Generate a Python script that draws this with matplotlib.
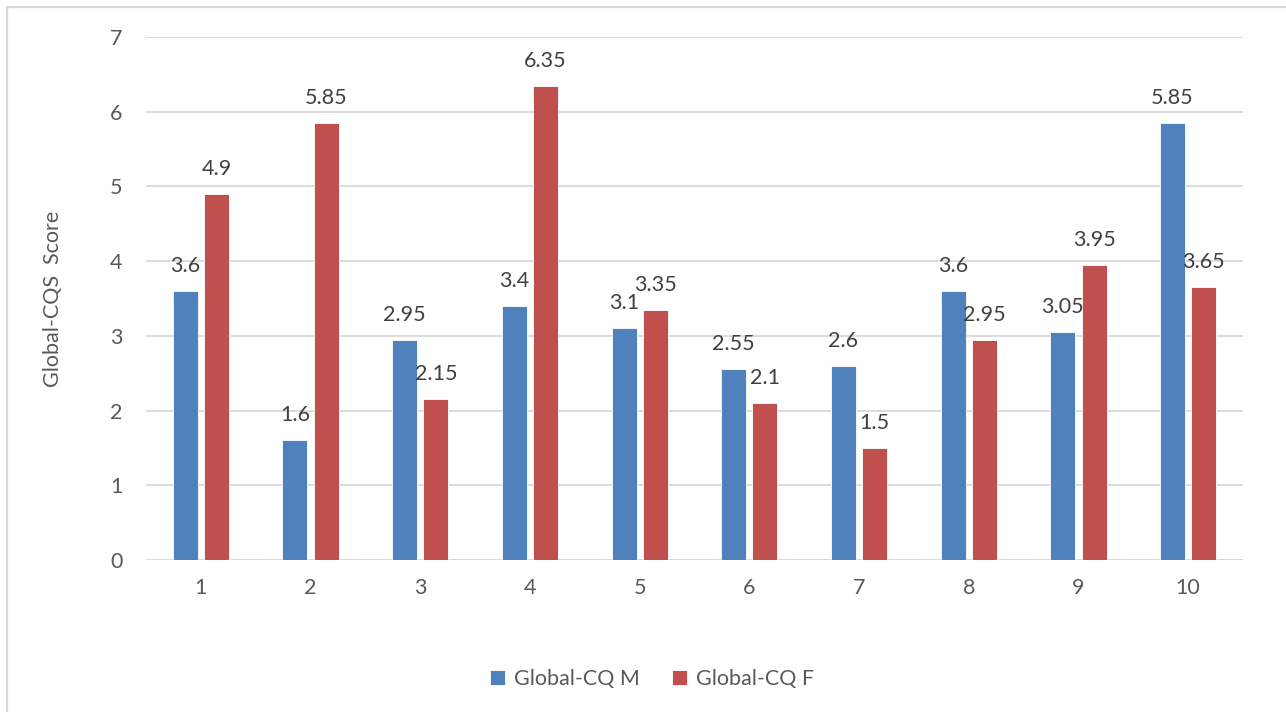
import matplotlib
matplotlib.use("Agg")
import matplotlib.pyplot as plt
from matplotlib.patches import Rectangle
import numpy as np

plt.rcParams['font.family'] = ['Lato', 'DejaVu Sans']

categories = ["1", "2", "3", "4", "5", "6", "7", "8", "9", "10"]
global_cq_m = [3.6, 1.6, 2.95, 3.4, 3.1, 2.55, 2.6, 3.6, 3.05, 5.85]
global_cq_f = [4.9, 5.85, 2.15, 6.35, 3.35, 2.1, 1.5, 2.95, 3.95, 3.65]
series_names = ["Global-CQ M", "Global-CQ F"]
y_ticks = [0, 1, 2, 3, 4, 5, 6, 7]

BLUE = "#4F81BD"
RED = "#C0504D"
GRID = "#D9D9D9"
TICK_TXT = "#595959"
LABEL_TXT = "#404040"
FS = 15.5

W, H = 1286, 712
fig = plt.figure(figsize=(W / 100, H / 100), dpi=100)
fig.patch.set_facecolor("white")

# chart-area frame (its right and bottom edges run past the canvas)
frame = Rectangle((7 / W, -0.2), 1.2, 1 - 7 / H + 0.2, transform=fig.transFigure,
                  fill=False, edgecolor=GRID, linewidth=1.6)
fig.patches.append(frame)

ax = fig.add_axes([146 / W, (H - 560) / H, (1243 - 146) / W, (560 - 37) / H])

x = np.arange(len(categories))
bw = 0.228
off = bw / 2 + 0.028

bars_m = ax.bar(x - off, global_cq_m, width=bw, color=BLUE, edgecolor="white",
                linewidth=0.6, label=series_names[0], zorder=3)
bars_f = ax.bar(x + off, global_cq_f, width=bw, color=RED, edgecolor="white",
                linewidth=0.6, label=series_names[1], zorder=3)

for bars, vals in ((bars_m, global_cq_m), (bars_f, global_cq_f)):
    for b, v in zip(bars, vals):
        ax.annotate(f"{v:g}", (b.get_x() + b.get_width() / 2, v),
                    xytext=(0, 18), textcoords="offset points",
                    ha="center", va="center", fontsize=FS, color=LABEL_TXT,
                    zorder=5)

ax.set_xlim(-0.5, len(categories) - 0.5)
ax.set_ylim(0, 7)
ax.set_yticks(y_ticks)
ax.set_xticks(x)
ax.set_xticklabels(categories)
ax.yaxis.grid(True, color=GRID, linewidth=1.3, zorder=0)
ax.set_axisbelow(True)
ax.tick_params(axis="both", length=0, labelsize=FS, labelcolor=TICK_TXT)
ax.tick_params(axis="y", pad=17)
ax.tick_params(axis="x", pad=13)
for s in ax.spines.values():
    s.set_visible(False)
ax.axhline(0, color=GRID, linewidth=1.3, zorder=1)

ax.set_ylabel("Global-CQS  Score", fontsize=FS, color=TICK_TXT, labelpad=34)

fig.legend(handles=[bars_m, bars_f], labels=series_names, loc="center",
           bbox_to_anchor=(652 / W, (H - 679) / H), ncol=2, frameon=False,
           fontsize=FS, labelcolor=TICK_TXT, handlelength=0.7, handleheight=0.7,
           handletextpad=0.4, columnspacing=1.5)

fig.savefig("out.png", dpi=100, facecolor="white")
